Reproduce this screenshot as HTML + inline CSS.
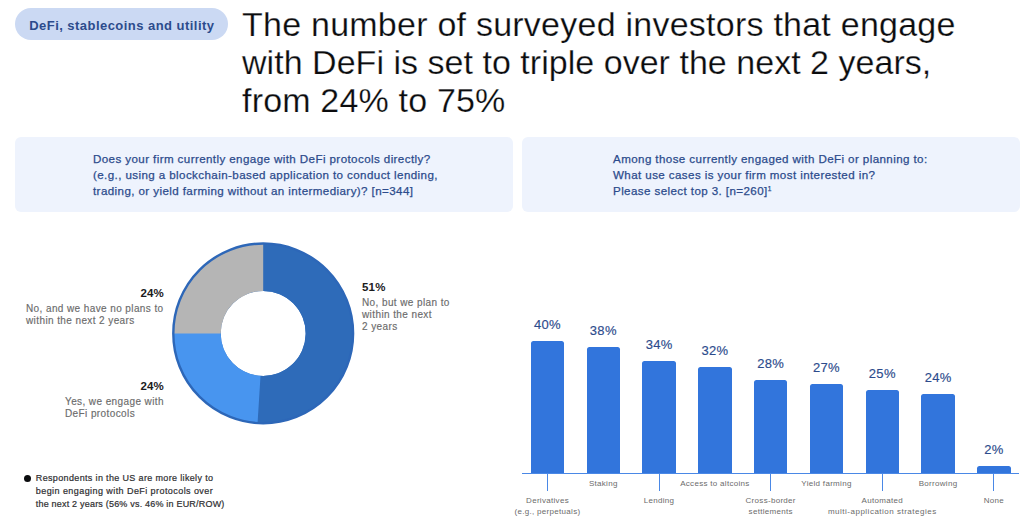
<!DOCTYPE html>
<html><head><meta charset="utf-8">
<style>
*{margin:0;padding:0;box-sizing:border-box}
html,body{width:1024px;height:520px;background:#fff;overflow:hidden;font-family:"Liberation Sans",sans-serif}
.a{position:absolute;white-space:nowrap}
.pill{left:15.2px;top:8.2px;width:213px;height:32px;border-radius:16px;background:#cbd9f3;color:#2c4b8c;font-weight:bold;font-size:13px;letter-spacing:0.46px;line-height:32px;padding-left:14px;padding-top:1.4px}
.title{left:242px;top:4.7px;font-size:34px;line-height:38px;color:#0b0c0e;white-space:pre;-webkit-text-stroke:0.25px #fff}
.qbox{top:137px;width:498px;height:75px;border-radius:6px;background:#eef3fd}
.qt{top:150.9px;font-size:11.6px;line-height:16.1px;color:#2c4b8c;letter-spacing:0.4px;white-space:pre;-webkit-text-stroke:0.25px #2c4b8c}
.pct{font-weight:bold;font-size:11.5px;color:#1b1b1d;letter-spacing:0.2px}
.desc{font-size:10px;line-height:12.3px;color:#6b6b6b;letter-spacing:0.4px;white-space:pre;-webkit-text-stroke:0.15px #6b6b6b}
.bar{position:absolute;background:#3275dc;border-radius:2.5px 2.5px 0 0;width:33.5px}
.bl{position:absolute;font-size:13px;color:#2c4b8c;letter-spacing:0.3px;-webkit-text-stroke:0.15px #2c4b8c;text-align:center;width:60px}
.cl{position:absolute;font-size:8px;line-height:10.7px;color:#6b6b6b;letter-spacing:0.3px;text-align:center;width:140px;white-space:pre}
.tick{position:absolute;width:1.2px;background:#4a88e6;top:473px;height:18px}
.note{left:35.8px;font-size:9px;line-height:12.8px;color:#2e2e30;letter-spacing:0.3px;white-space:pre;-webkit-text-stroke:0.2px #2e2e30}
</style></head><body>

<div class="a pill">DeFi, stablecoins and utility</div>
<div class="a title"><span style="letter-spacing:0.24px">The number of surveyed investors that engage</span>
<span style="letter-spacing:0.03px">with DeFi is set to triple over the next 2 years,</span>
<span style="letter-spacing:0.18px">from 24% to 75%</span></div>

<div class="a qbox" style="left:15px"></div>
<div class="a qbox" style="left:521.5px"></div>
<div class="a qt" style="left:93px">Does your firm currently engage with DeFi protocols directly?
(e.g., using a blockchain-based application to conduct lending,
trading, or yield farming without an intermediary)? [n=344]</div>
<div class="a qt" style="left:613px">Among those currently engaged with DeFi or planning to:
What use cases is your firm most interested in?
Please select top 3. [n=260]<span style="font-size:6.5px;position:relative;top:-4px;line-height:0;letter-spacing:0">1</span></div>

<!-- donut -->
<svg class="a" style="left:0;top:0" width="1024" height="520" viewBox="0 0 1024 520">
  <g transform="translate(263.2 333.4)">
    <circle r="66" fill="none" stroke="#2e6bb9" stroke-width="47"/>
    <path fill="#2e6bb9" d="M0,-89.5 A89.5,89.5 0 1 1 -5.62,89.32 L-2.67,42.42 A42.5,42.5 0 1 0 0,-42.5 Z"/>
    <path fill="#4895ef" d="M-5.62,89.32 A89.5,89.5 0 0 1 -89.49,-1.56 L-42.49,-0.74 A42.5,42.5 0 0 0 -2.67,42.42 Z"/>
    <path fill="#b5b5b5" d="M-89.5,0 A89.5,89.5 0 0 1 0,-89.5 L0,-42.5 A42.5,42.5 0 0 0 -42.5,0 Z"/>
    <circle r="89.9" fill="none" stroke="#2d67b8" stroke-width="2.4"/>
  </g>
</svg>

<div class="a pct" style="left:362px;top:281px">51%</div>
<div class="a desc" style="left:362px;top:296.5px">No, but we plan to
within the next
2 years</div>
<div class="a pct" style="right:860px;top:287px">24%</div>
<div class="a desc" style="left:26px;top:302.8px">No, and we have no plans to
within the next 2 years</div>
<div class="a pct" style="right:860px;top:380px">24%</div>
<div class="a desc" style="left:65px;top:395.5px">Yes, we engage with
DeFi protocols</div>

<div class="a" style="left:24px;top:474.5px;width:7px;height:7px;border-radius:50%;background:#0b0c0e"></div>
<div class="a note" style="top:472px"><span style="letter-spacing:0.35px">Respondents in the US are more likely to</span>
<span style="letter-spacing:0.43px">begin engaging with DeFi protocols over</span>
<span style="letter-spacing:0.2px">the next 2 years (56% vs. 46% in EUR/ROW)</span></div>

<!-- bar chart -->
<div id="chart">
<div class="bar" style="left:530.75px;top:340.7px;height:132.4px"></div>
<div class="bl" style="left:517.5px;top:316.7px">40%</div>
<div class="cl" style="left:477.5px;top:496.3px">Derivatives
(e.g., perpetuals)</div>
<div class="tick" style="left:546.9px"></div>
<div class="bar" style="left:586.55px;top:347.32px;height:125.78px"></div>
<div class="bl" style="left:573.3px;top:323.32px">38%</div>
<div class="cl" style="left:533.3px;top:479px">Staking</div>
<div class="bar" style="left:642.35px;top:360.56px;height:112.54px"></div>
<div class="bl" style="left:629.1px;top:336.56px">34%</div>
<div class="cl" style="left:589.1px;top:496.3px">Lending</div>
<div class="tick" style="left:658.5px"></div>
<div class="bar" style="left:698.15px;top:367.18px;height:105.92px"></div>
<div class="bl" style="left:684.9px;top:343.18px">32%</div>
<div class="cl" style="left:644.9px;top:479px">Access to altcoins</div>
<div class="bar" style="left:753.95px;top:380.42px;height:92.68px"></div>
<div class="bl" style="left:740.7px;top:356.42px">28%</div>
<div class="cl" style="left:700.7px;top:496.3px">Cross-border
settlements</div>
<div class="tick" style="left:770.1px"></div>
<div class="bar" style="left:809.75px;top:383.73px;height:89.37px"></div>
<div class="bl" style="left:796.5px;top:359.73px">27%</div>
<div class="cl" style="left:756.5px;top:479px">Yield farming</div>
<div class="bar" style="left:865.55px;top:390.35px;height:82.75px"></div>
<div class="bl" style="left:852.3px;top:366.35px">25%</div>
<div class="cl" style="left:812.3px;top:496.3px">Automated
<span style="letter-spacing:0.5px">multi-application strategies</span></div>
<div class="tick" style="left:881.7px"></div>
<div class="bar" style="left:921.35px;top:393.66px;height:79.44px"></div>
<div class="bl" style="left:908.1px;top:369.66px">24%</div>
<div class="cl" style="left:868.1px;top:479px">Borrowing</div>
<div class="bar" style="left:977.15px;top:466.48px;height:6.62px"></div>
<div class="bl" style="left:963.9px;top:442.48px">2%</div>
<div class="cl" style="left:923.9px;top:496.3px">None</div>
<div class="tick" style="left:993.3px"></div>
</div>
<div class="a" style="left:521.7px;top:473px;width:497px;height:1.3px;background:#4a88e6"></div>

</body></html>
